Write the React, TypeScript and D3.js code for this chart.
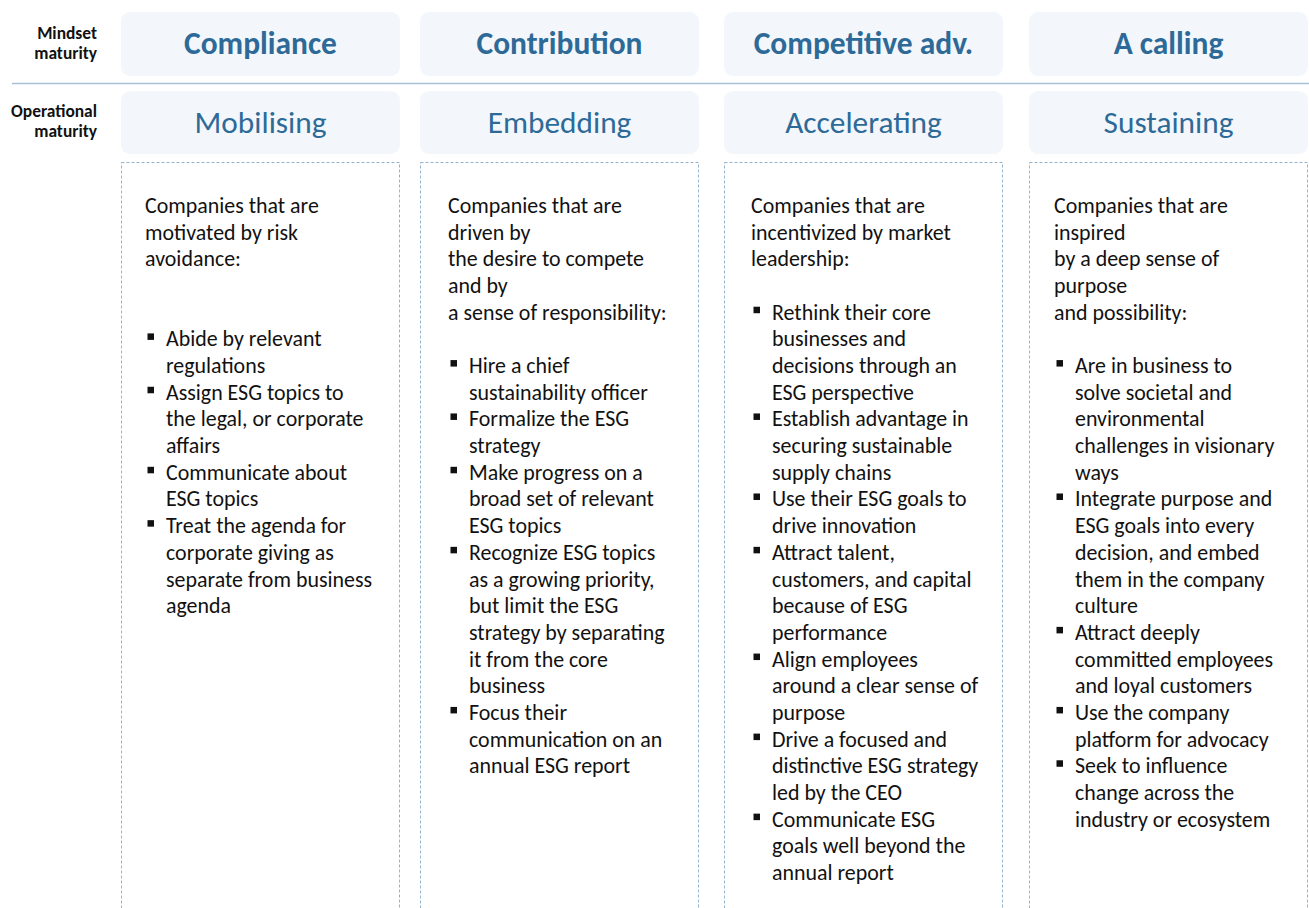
import React, { useMemo } from "react";
import * as d3 from "d3";

const mindsetStages = ["Compliance", "Contribution", "Competitive adv.", "A calling"];
const operationalStages = ["Mobilising", "Embedding", "Accelerating", "Sustaining"];
const rowLabels = [["Mindset", "maturity"], ["Operational", "maturity"]];

const introLines = [
  ["Companies that are", "motivated by risk", "avoidance:"],
  ["Companies that are", "driven by", "the desire to compete", "and by", "a sense of responsibility:"],
  ["Companies that are", "incentivized by market", "leadership:"],
  ["Companies that are", "inspired", "by a deep sense of", "purpose", "and possibility:"],
];

const bulletStartLine = [5, 6, 4, 6];

const bullets1 = [
  ["Abide by relevant", "regulations"],
  ["Assign ESG topics to", "the legal, or corporate", "affairs"],
  ["Communicate about", "ESG topics"],
  ["Treat the agenda for", "corporate giving as", "separate from business", "agenda"],
];
const bullets2 = [
  ["Hire a chief", "sustainability officer"],
  ["Formalize the ESG", "strategy"],
  ["Make progress on a", "broad set of relevant", "ESG topics"],
  ["Recognize ESG topics", "as a growing priority,", "but limit the ESG", "strategy by separating", "it from the core", "business"],
  ["Focus their", "communication on an", "annual ESG report"],
];
const bullets3 = [
  ["Rethink their core", "businesses and", "decisions through an", "ESG perspective"],
  ["Establish advantage in", "securing sustainable", "supply chains"],
  ["Use their ESG goals to", "drive innovation"],
  ["Attract talent,", "customers, and capital", "because of ESG", "performance"],
  ["Align employees", "around a clear sense of", "purpose"],
  ["Drive a focused and", "distinctive ESG strategy", "led by the CEO"],
  ["Communicate ESG", "goals well beyond the", "annual report"],
];
const bullets4 = [
  ["Are in business to", "solve societal and", "environmental", "challenges in visionary", "ways"],
  ["Integrate purpose and", "ESG goals into every", "decision, and embed", "them in the company", "culture"],
  ["Attract deeply", "committed employees", "and loyal customers"],
  ["Use the company", "platform for advocacy"],
  ["Seek to influence", "change across the", "industry or ecosystem"],
];
const bulletLists = [bullets1, bullets2, bullets3, bullets4];

const FONT = "Carlito, Calibri, Lato, 'Open Sans', sans-serif";
const W = 1309;
const H = 908;
// layout: left edges of the column boxes
const BOX_LEFT = [121, 420, 724, 1029];
const BOX_W = 279;

function fitSize(text: string, weight: string, target: number, base: number) {
  try {
    const c = document.createElement("canvas");
    const ctx = c.getContext("2d");
    if (!ctx) return base;
    ctx.font = `${weight} 100px ${FONT}`;
    const w = ctx.measureText(text).width;
    if (!w) return base;
    return (100 * target) / w;
  } catch (e) {
    return base;
  }
}

export default function App() {
  const sizes = useMemo(
    () => ({
      body: fitSize("Companies that are", "normal", 174, 19.5),
      head: fitSize("Compliance", "bold", 153, 26),
      sub: fitSize("Mobilising", "normal", 132, 27),
      label: fitSize("Operational", "bold", 86, 14),
    }),
    []
  );

  const textX = d3.scaleLinear().domain([0, 1]).range([145, 448]);
  const lineY = d3.scaleLinear().domain([0, 1]).range([213, 213 + 26.68]);

  const headerColor = "#2e6a97";
  const boxFill = "#f3f7fb";

  return (
    <svg
      width={W}
      height={H}
      style={{ position: "absolute", left: 0, top: 0, background: "#fff" }}
      fontFamily={FONT}
    >
      {rowLabels.map((lines, r) =>
        lines.map((t, i) => (
          <text
            key={`l${r}${i}`}
            x={97}
            y={(r === 0 ? 39 : 117) + i * 20}
            textAnchor="end"
            fontWeight="bold"
            fontSize={sizes.label}
            fill="#111"
          >
            {t}
          </text>
        ))
      )}
      <line x1={12} x2={W} y1={83.5} y2={83.5} stroke="#a9c0d6" strokeWidth={1.5} />

      {mindsetStages.map((s, i) => (
        <g key={`m${i}`}>
          <rect x={BOX_LEFT[i]} y={12} width={BOX_W} height={64} rx={9} fill={boxFill} />
          <text
            x={BOX_LEFT[i] + BOX_W / 2}
            y={54}
            textAnchor="middle"
            fontWeight="bold"
            fontSize={sizes.head}
            fill={headerColor}
          >
            {s}
          </text>
        </g>
      ))}
      {operationalStages.map((s, i) => (
        <g key={`o${i}`}>
          <rect x={BOX_LEFT[i]} y={91} width={BOX_W} height={63} rx={9} fill={boxFill} />
          <text
            x={BOX_LEFT[i] + BOX_W / 2}
            y={133}
            textAnchor="middle"
            fontSize={sizes.sub}
            fill={headerColor}
          >
            {s}
          </text>
        </g>
      ))}

      {d3.range(4).map((i) => {
        const x0 = textX(i);
        let line = bulletStartLine[i];
        const items: React.ReactNode[] = [];
        bulletLists[i].forEach((b, bi) => {
          const by = lineY(line);
          items.push(
            <rect key={`sq${bi}`} x={x0 + 2.5} y={by - 13} width={6.5} height={6.5} fill="#111" />
          );
          b.forEach((t, ti) => {
            items.push(
              <text key={`b${bi}-${ti}`} x={x0 + 21} y={lineY(line)} fontSize={sizes.body} fill="#111">
                {t}
              </text>
            );
            line += 1;
          });
        });
        return (
          <g key={`c${i}`}>
            <rect
              x={BOX_LEFT[i] + 0.5}
              y={162.5}
              width={BOX_W - 1}
              height={800}
              fill="none"
              stroke="#96b4ce"
              strokeWidth={1}
              strokeDasharray="3,2"
            />
            {introLines[i].map((t, ti) => (
              <text key={`i${ti}`} x={x0} y={lineY(ti)} fontSize={sizes.body} fill="#111">
                {t}
              </text>
            ))}
            {items}
          </g>
        );
      })}
    </svg>
  );
}
